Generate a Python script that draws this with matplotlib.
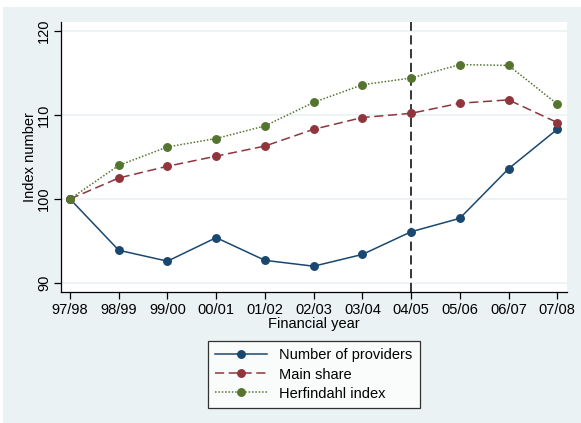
import matplotlib
matplotlib.use("Agg")
import matplotlib.pyplot as plt
from matplotlib.patches import Rectangle

plt.rcParams['font.family'] = ['Liberation Sans', 'DejaVu Sans']

years = ["97/98", "98/99", "99/00", "00/01", "01/02", "02/03",
         "03/04", "04/05", "05/06", "06/07", "07/08"]
providers = [100, 93.9, 92.6, 95.4, 92.7, 92.0, 93.4, 96.1, 97.7, 103.6, 108.3]
main_share = [100, 102.5, 103.9, 105.1, 106.3, 108.3, 109.7, 110.2, 111.4, 111.8, 109.1]
herfindahl = [100, 104.0, 106.2, 107.2, 108.7, 111.5, 113.6, 114.4, 116.0, 115.9, 111.3]
y_ticks = [90, 100, 110, 120]
marker_year = "04/05"

W, H = 581, 423
fig = plt.figure(figsize=(W / 100, H / 100), dpi=100)
fig.patch.set_facecolor("white")
bg = "#EAF2F3"
fig.add_artist(Rectangle((3 / W, 0), 1 - 3 / W, 1 - 7 / H, transform=fig.transFigure,
                         facecolor=bg, edgecolor="none", zorder=0))

ax = fig.add_axes([61 / W, 1 - 292 / H, (567 - 61) / W, (292 - 22) / H])
ax.set_facecolor("white")
x = list(range(len(years)))

ax.set_ylim(88.93, 121.07)
ax.set_xlim(-0.185, 10.2)

for t in y_ticks:
    ax.axhline(t, color=bg, lw=1.2, zorder=1)

ax.axvline(years.index(marker_year), color="black", lw=1.1,
           linestyle=(0, (6, 3)), zorder=2)

navy, maroon, green = "#1A476F", "#90353B", "#55752F"
ms = 5.4
ax.plot(x, providers, color=navy, lw=1.1, marker="o", ms=ms,
        label="Number of providers", zorder=3)
ax.plot(x, main_share, color=maroon, lw=1.1, marker="o", ms=ms,
        linestyle=(0, (6, 3)), label="Main share", zorder=4)
ax.plot(x, herfindahl, color=green, lw=1.1, marker="o", ms=ms,
        linestyle=(0, (1, 1.2)), label="Herfindahl index", zorder=5)

for s in ["top", "right"]:
    ax.spines[s].set_visible(False)
for s in ["left", "bottom"]:
    ax.spines[s].set_color("black")
    ax.spines[s].set_linewidth(0.9)

ax.set_xticks(x)
ax.set_xticklabels(years, fontsize=10.5)
ax.set_yticks(y_ticks)
ax.set_yticklabels([str(t) for t in y_ticks], fontsize=10.5, rotation=90, va="center")
ax.tick_params(axis="both", length=5, width=0.9, color="black")
ax.tick_params(axis="x", pad=3)
ax.tick_params(axis="y", pad=2)

ax.set_xlabel("Financial year", fontsize=10.5, labelpad=0)
ax.set_ylabel("Index number", fontsize=10.5, labelpad=0)

leg = fig.legend(loc="center", bbox_to_anchor=(313.5 / W, 1 - 374.5 / H),
                 fontsize=10.5, frameon=True, fancybox=False, handlelength=3.6,
                 handletextpad=0.8, borderpad=0.5, labelspacing=0.35)
leg.get_frame().set_edgecolor("black")
leg.get_frame().set_linewidth(0.9)
leg.get_frame().set_facecolor("white")

fig.savefig("out.png", dpi=100, facecolor=fig.get_facecolor())
